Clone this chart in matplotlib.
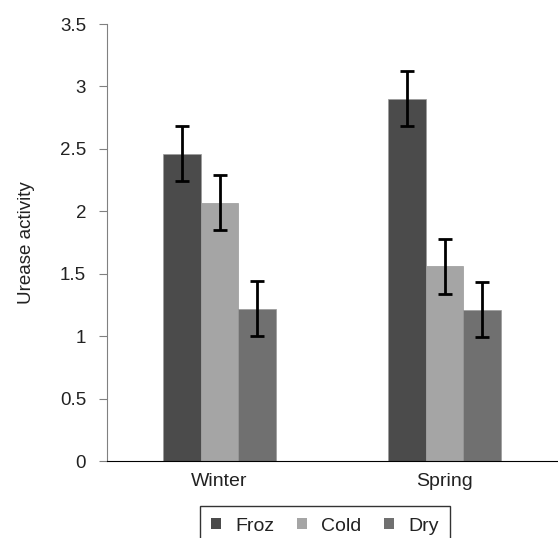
import matplotlib.pyplot as plt
import numpy as np

seasons = ["Winter", "Spring"]
series = ["Froz", "Cold", "Dry"]
values = {
    "Froz": [2.46, 2.90],
    "Cold": [2.07, 1.56],
    "Dry": [1.22, 1.21],
}
errors = {
    "Froz": [0.22, 0.22],
    "Cold": [0.22, 0.22],
    "Dry": [0.22, 0.22],
}
colors = {"Froz": "#4b4b4b", "Cold": "#a5a5a5", "Dry": "#707070"}

plt.rcParams["font.family"] = ["Liberation Sans", "DejaVu Sans"]

fig = plt.figure(figsize=(5.58, 5.38), dpi=100)
ax = fig.add_axes([107/558, 1 - 461/538, 450/558, (461 - 24)/538])

x = np.arange(len(seasons))
w = 0.168
for i, s in enumerate(series):
    ax.bar(x + (i - 1) * w, values[s], w, color=colors[s], edgecolor="#9a9a9a",
           linewidth=0.5, label=s, yerr=errors[s],
           error_kw=dict(ecolor="black", elinewidth=2, capsize=5, capthick=2))

ax.set_xlim(-0.5, 1.5)
ax.set_ylim(0, 3.5)
ax.set_yticks(np.arange(0, 3.51, 0.5))
ax.set_yticklabels(["0", "0.5", "1", "1.5", "2", "2.5", "3", "3.5"])
ax.set_xticks(x)
ax.set_xticklabels(seasons)
ax.tick_params(axis="x", length=0, labelsize=14, pad=9, labelcolor="#222222")
ax.tick_params(axis="y", length=6, color="#808080", labelsize=13.5, pad=9,
               labelcolor="#222222")
ax.spines["top"].set_visible(False)
ax.spines["right"].set_visible(False)
ax.spines["left"].set_color("#808080")
ax.spines["bottom"].set_color("black")
ax.set_ylabel("Urease activity", fontsize=13.5, labelpad=18, color="#222222")

leg = fig.legend(loc="upper center", bbox_to_anchor=(325/558, 1 - 506/538), ncol=3,
                 frameon=True, fancybox=False, edgecolor="black", fontsize=14,
                 handlelength=0.5, handleheight=0.5, columnspacing=1.15,
                 borderpad=0.6, handletextpad=0.75, borderaxespad=0)
leg.get_frame().set_linewidth(1.0)
for h in leg.legend_handles:
    h.set_edgecolor("none")
for t in leg.get_texts():
    t.set_color("#222222")

fig.savefig("out.png", dpi=100)
